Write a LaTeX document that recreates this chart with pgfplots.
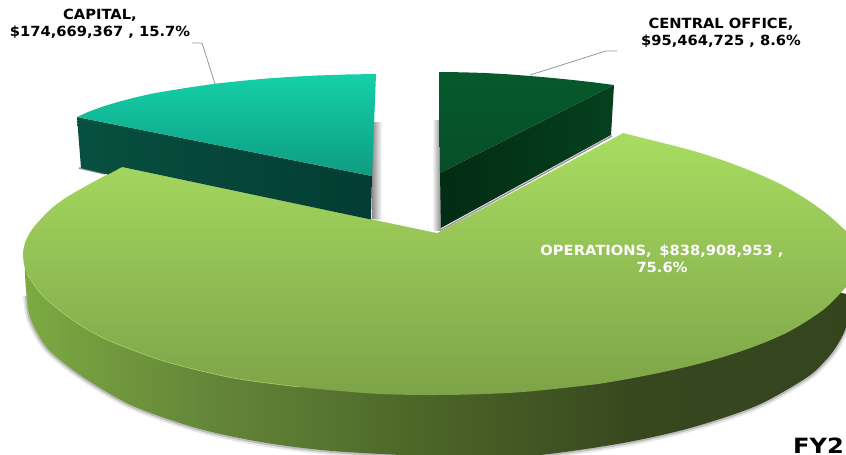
\documentclass[border=0pt]{standalone}
\usepackage{pgfplots}
\pgfplotsset{compat=1.18}
\usepackage{fontspec}
\setmainfont{DejaVu Sans}
\definecolor{sa}{HTML}{7DAA43}
\definecolor{sb}{HTML}{729A3E}
\definecolor{sc}{HTML}{648639}
\definecolor{sd}{HTML}{597832}
\definecolor{se}{HTML}{4A6327}
\definecolor{sf}{HTML}{3F5322}
\definecolor{sg}{HTML}{37471E}
\definecolor{sh}{HTML}{34441D}
\pgfdeclarehorizontalshading{mainside}{100bp}{color(0bp)=(sa);color(25bp)=(sa);color(29.6bp)=(sb);color(35.7bp)=(sc);color(41.7bp)=(sd);color(49.2bp)=(se);color(56.4bp)=(sf);color(61.2bp)=(sg);color(75bp)=(sh);color(100bp)=(sh)}
\begin{document}
\begin{tikzpicture}
\begin{axis}[hide axis,scale only axis,width=846pt,height=455pt,
  xmin=0,xmax=846,ymin=0,ymax=455,y dir=reverse]
% shadow of the main slice
\addplot[draw=black,smooth,opacity=.10,line width=8pt] coordinates {(27,296)(31,320)(48,349)(83,377)(133,406)(200,429)(267,443)(333,451)(423,456)(480,457)(540,455)(623,443)(690,428)(756,406)(806,378)(825,361)(836,347)(846,327)};
\addplot[draw=black,smooth,opacity=.18,line width=4pt] coordinates {(27,296)(31,320)(48,349)(83,377)(133,406)(200,429)(267,443)(333,451)(423,456)(480,457)(540,455)(623,443)(690,428)(756,406)(806,378)(825,361)(836,347)(846,327)};
% main side
\addplot[draw=none,smooth,shading=mainside] coordinates {(25,262)(25,275)(27,300)(31,320)(48,349)(83,377)(133,406)(200,429)(267,443)(333,451)(423,456)(480,457)(540,455)(623,443)(690,428)(756,406)(806,378)(825,361)(836,347)(846,327)(850,295)(700,280)(450,270)(200,270)} --cycle;
% main top, drawn whole; the notch comes next
\addplot[draw=none,smooth,top color={rgb,255:red,172;green,226;blue,99},middle color={rgb,255:red,146;green,197;blue,87},bottom color={rgb,255:red,125;green,163;blue,72}] coordinates {(560,118)(623,133)(655,141)(690,150)(722,160)(756,173)(782,185)(806,199)(827,214)(846,231)(858,243)(864,254)(860,268)(846,287)(823,310)(790,331)(757,345.5)(723,357)(690,366)(656,373.5)(625,379.5)(590,385)(523,392)(470,394.5)(423,395)(380,394)(340,391)(300,387)(233,378)(167,362)(117,344)(90,331)(67,316)(42,295)(27,274)(23,256)(25,243)(31,231)(40,220)(52,208)(67,197)(95,181)(122,167)(180,137)(280,116)(420,110)} --cycle;
\addplot[draw=none,fill=white] coordinates {(122,167)(437,233)(623,133)(623,60)(122,60)} --cycle;
% highlight
\addplot[draw={rgb,255:red,165;green,215;blue,95},smooth,line width=.6pt] coordinates {(27,274)(42,295)(67,316)(90,331)(117,344)(167,362)(233,378)(300,387)};
% shadows of the slices
\addplot[draw=none,left color=black!45,right color=white] coordinates {(372,122)(382,122)(382,220)(372,219)} --cycle;
\addplot[draw=none,left color=white,right color=black!45] coordinates {(432,120)(441,120)(441,230)(432,230)} --cycle;
\addplot[draw=black!45,line width=1.5pt] coordinates {(79,168)(105,174)};
\addplot[draw=black!40,line width=1.5pt] coordinates {(441,230)(612,136)};
% capital
\addplot[draw=none,left color={rgb,255:red,7;green,80;blue,64},right color={rgb,255:red,3;green,60;blue,50}] coordinates {(77,117)(372,176)(371,219.5)(122,167)(108,174.5)(81,168)} --cycle;
\addplot[draw=none,top color={rgb,255:red,21;green,208;blue,169},bottom color={rgb,255:red,14;green,156;blue,130}] coordinates {(77,117)(88,112)(100,107.5)(116,102.5)(133,98)(150,94)(167,91)(192,87)(217,83.5)(242,80.8)(267,78.5)(292,76.8)(317,75.5)(346,74.5)(376,74)(372,176)} --cycle;
% central office
\addplot[draw=none,left color={rgb,255:red,2;green,44;blue,19},right color={rgb,255:red,5;green,64;blue,30}] coordinates {(440,173)(614,85)(611,135)(441,228)} --cycle;
\addplot[draw=none,top color={rgb,255:red,6;green,90;blue,44},bottom color={rgb,255:red,7;green,78;blue,40}] coordinates {(439,72)(462,72.3)(485,73)(508,74.3)(530,76)(552,77.9)(573,80)(594,82.4)(614,85)(440,173)} --cycle;
% leaders
\addplot[draw=black!40,line width=.8pt] coordinates {(192,43)(202,43)(215,84)};
\addplot[draw=black!40,line width=.8pt] coordinates {(530,75)(606,51)(617,51)};
\node[font=\bfseries\fontsize{14pt}{16.5pt}\selectfont,xscale=1.05,text=black,align=center,inner sep=0pt] at (axis cs:100,24) {CAPITAL,\\\$174,669,367 , 15.7\%};
\node[font=\bfseries\fontsize{14pt}{16.5pt}\selectfont,xscale=1.05,text=black,align=center,inner sep=0pt] at (axis cs:721,33) {CENTRAL OFFICE,\\\$95,464,725 , 8.6\%};
\node[font=\bfseries\fontsize{14pt}{17.5pt}\selectfont,xscale=1.05,text=white,align=center,inner sep=0pt] at (axis cs:662,259) {OPERATIONS,\, \$838,908,953 ,\\75.6\%};
\node[font=\bfseries\fontsize{21pt}{24pt}\selectfont,xscale=1.15,text=black,anchor=base west,inner sep=0pt] at (axis cs:793,453) {FY2};
\coordinate (sw) at (axis cs:0,455);
\coordinate (ne) at (axis cs:846,0);
\end{axis}
\pgfresetboundingbox
\useasboundingbox (sw) rectangle (ne);
\end{tikzpicture}
\end{document}
